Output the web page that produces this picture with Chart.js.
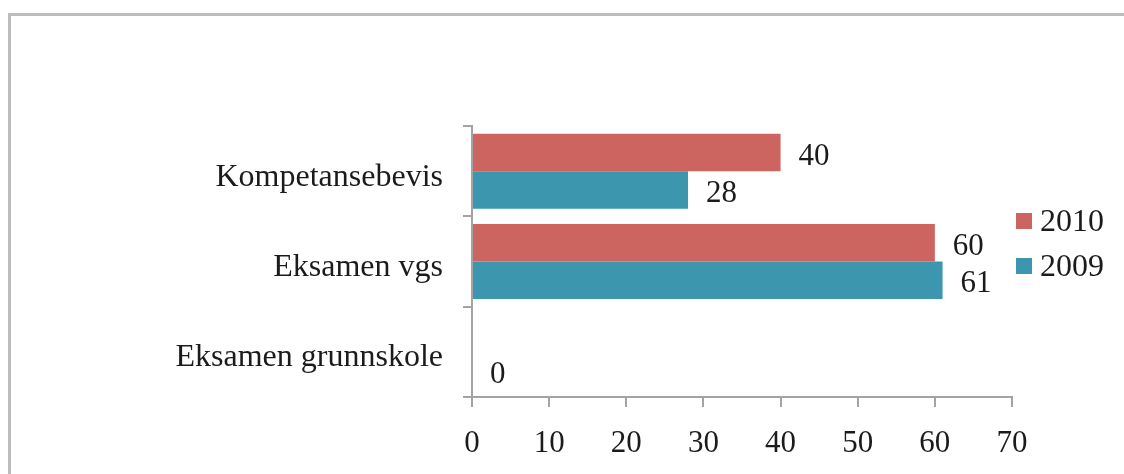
<!DOCTYPE html>
<html>
<head>
<meta charset="utf-8">
<script src="https://cdn.jsdelivr.net/npm/chart.js@4"></script>
<style>
  html, body { margin: 0; padding: 0; background: #ffffff; }
  #chart { display: block; }
</style>
</head>
<body>
<canvas id="chart" width="1124" height="474"></canvas>
<script>
const categories = ['Kompetansebevis', 'Eksamen vgs', 'Eksamen grunnskole'];
const seriesNames = ['2010', '2009'];
const values2010 = [40, 60, null];
const values2009 = [28, 61, 0];
const xTicks = [0, 10, 20, 30, 40, 50, 60, 70];

const FONT = "'Liberation Serif', 'Times New Roman', serif";
const AXIS_GRAY = '#a3a3a3';
const TEXT = '#1b1b1b';

// grey frame around the chart, only top and left edges show
const framePlugin = {
  id: 'frame',
  beforeDraw(chart) {
    const ctx = chart.ctx;
    ctx.save();
    ctx.fillStyle = '#ffffff';
    ctx.fillRect(0, 0, chart.width, chart.height);
    ctx.strokeStyle = '#bdbdbd';
    ctx.lineWidth = 3;
    ctx.beginPath();
    ctx.moveTo(9.5, chart.height);
    ctx.lineTo(9.5, 14.5);
    ctx.lineTo(chart.width, 14.5);
    ctx.stroke();
    ctx.restore();
  },
};

const valueLabels = {
  id: 'valueLabels',
  afterDatasetsDraw(chart) {
    const ctx = chart.ctx;
    ctx.save();
    ctx.font = '31px ' + FONT;
    ctx.fillStyle = TEXT;
    ctx.textAlign = 'left';
    ctx.textBaseline = 'middle';
    chart.data.datasets.forEach((ds, i) => {
      const meta = chart.getDatasetMeta(i);
      meta.data.forEach((bar, j) => {
        const v = ds.data[j];
        if (v === null || v === undefined) return;
        ctx.fillText(String(v), bar.x + 18, bar.y + 4);
      });
    });
    ctx.restore();
  },
};

const sideLegend = {
  id: 'sideLegend',
  afterDraw(chart) {
    const ctx = chart.ctx;
    const area = chart.chartArea;
    ctx.save();
    ctx.font = '32px ' + FONT;
    ctx.textAlign = 'left';
    ctx.textBaseline = 'middle';
    chart.data.datasets.forEach((ds, i) => {
      const cy = area.top + 95 + i * 45;
      ctx.fillStyle = ds.backgroundColor;
      ctx.fillRect(area.right + 4, cy - 8, 16, 16);
      ctx.fillStyle = TEXT;
      ctx.fillText(ds.label, area.right + 28, cy + 2);
    });
    ctx.restore();
  },
};

new Chart(document.getElementById('chart'), {
  type: 'bar',
  plugins: [framePlugin, valueLabels, sideLegend],
  data: {
    labels: categories,
    datasets: [
      {
        label: seriesNames[0],
        data: values2010,
        backgroundColor: '#cc6560',
        borderWidth: 0,
        categoryPercentage: 0.83,
        barPercentage: 1.0,
      },
      {
        label: seriesNames[1],
        data: values2009,
        backgroundColor: '#3c96ad',
        borderWidth: 0,
        categoryPercentage: 0.83,
        barPercentage: 1.0,
      },
    ],
  },
  options: {
    indexAxis: 'y',
    responsive: false,
    animation: false,
    layout: {
      padding: { top: 126, right: 112, left: 0, bottom: 0 },
    },
    plugins: {
      legend: { display: false },
      tooltip: { enabled: false },
    },
    scales: {
      x: {
        min: xTicks[0],
        max: xTicks[xTicks.length - 1],
        afterBuildTicks(scale) {
          scale.ticks = xTicks.map((v) => ({ value: v }));
        },
        afterFit(scale) {
          scale.height = 77;
        },
        grid: {
          drawOnChartArea: false,
          drawTicks: true,
          tickLength: 10,
          color: AXIS_GRAY,
          lineWidth: 2,
        },
        border: { color: AXIS_GRAY, width: 2 },
        ticks: {
          color: TEXT,
          padding: 18,
          font: { family: FONT, size: 31 },
        },
      },
      y: {
        afterFit(scale) {
          scale.width = 472;
        },
        grid: {
          offset: true,
          drawOnChartArea: false,
          drawTicks: true,
          tickLength: 9,
          color: AXIS_GRAY,
          lineWidth: 2,
        },
        border: { color: AXIS_GRAY, width: 2 },
        ticks: {
          color: TEXT,
          padding: 20,
          labelOffset: 6,
          font: { family: FONT, size: 32 },
        },
      },
    },
  },
});
</script>
</body>
</html>
